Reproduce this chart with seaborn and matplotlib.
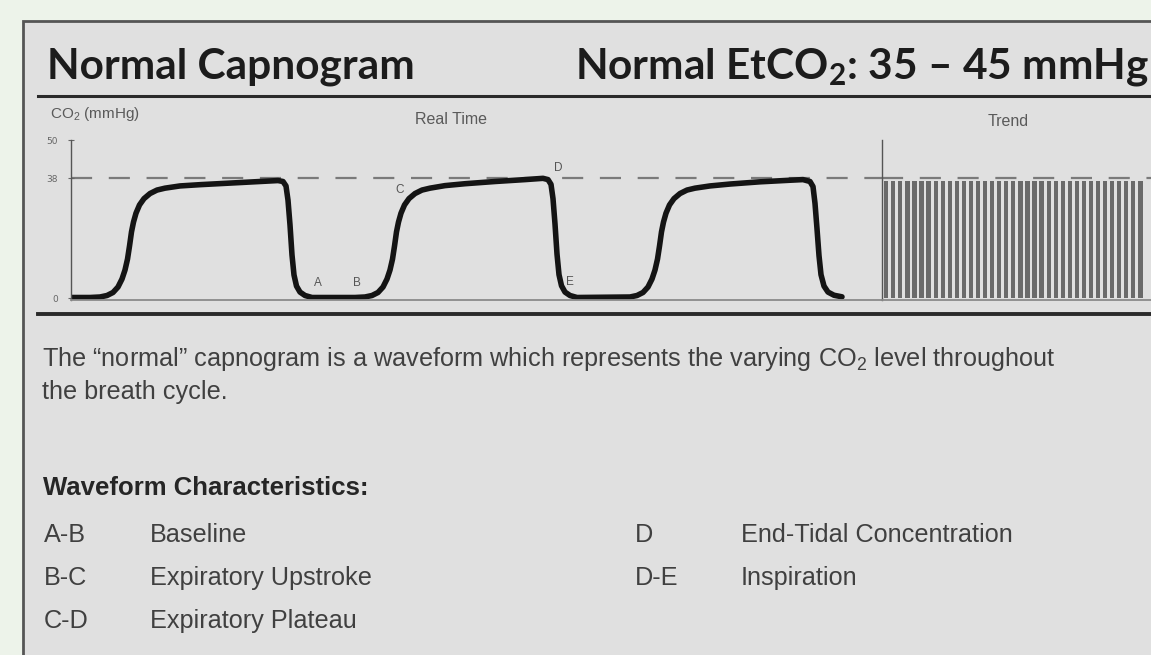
import matplotlib
matplotlib.use("Agg")
import matplotlib.pyplot as plt
from matplotlib.patches import Rectangle
from matplotlib.lines import Line2D
import seaborn as sns

# real-time capnogram (time in s, CO2 in mmHg)
time_s = [
    # breath 1
    0.00, 0.38, 0.58, 0.72, 0.84, 0.94, 1.02, 1.08, 1.13, 1.17, 1.21, 1.25, 1.30, 1.37,
    1.46, 1.58, 1.72, 1.88, 2.18, 2.58, 3.18, 3.78, 4.14, 4.24, 4.30, 4.34, 4.38, 4.42,
    4.46, 4.51, 4.58, 4.68, 4.82,
    # breath 2
    5.68, 5.88, 6.02, 6.14, 6.24, 6.32, 6.38, 6.43, 6.47, 6.51, 6.55, 6.60, 6.67, 6.76,
    6.88, 7.02, 7.18, 7.48, 7.88, 8.48, 9.08, 9.44, 9.54, 9.60, 9.64, 9.68, 9.72, 9.76,
    9.81, 9.88, 9.98, 10.12,
    # breath 3
    11.18, 11.32, 11.44, 11.54, 11.62, 11.68, 11.73, 11.77, 11.81, 11.85, 11.90, 11.97,
    12.06, 12.18, 12.32, 12.48, 12.78, 13.18, 13.78, 14.38, 14.64, 14.78, 14.84, 14.88,
    14.92, 14.96, 15.00, 15.06, 15.14, 15.26, 15.42,
]
co2_mmhg = [
    0.29, 0.29, 0.45, 0.92, 1.87, 3.60, 6.12, 8.96, 12.4, 16.5, 21.0, 24.1, 26.9, 29.5,
    31.5, 33.1, 34.2, 34.8, 35.5, 35.9, 36.4, 36.9, 37.2, 36.9, 35.5, 31.0, 23.2, 13.7,
    7.4, 3.9, 2.0, 0.92, 0.29,
    0.29, 0.45, 0.92, 1.87, 3.60, 6.12, 8.96, 12.4, 16.5, 21.0, 24.1, 26.9, 29.5, 31.5,
    33.1, 34.2, 34.8, 35.6, 36.2, 36.9, 37.5, 37.9, 37.5, 36.0, 31.5, 23.5, 14.0, 7.5,
    4.0, 2.0, 0.92, 0.29,
    0.45, 0.92, 1.87, 3.60, 6.12, 8.96, 12.4, 16.5, 21.0, 24.1, 26.9, 29.5,
    31.5, 33.1, 34.2, 34.8, 35.5, 36.1, 36.8, 37.3, 37.5, 36.9, 35.3, 30.0,
    22.0, 13.5, 7.5, 3.9, 2.0, 1.0, 0.5,
]

# trend: one bar per breath
trend_breath = list(range(1, 38))
trend_etco2 = [37, 37, 37, 37, 37, 37, 37, 37, 37, 37, 37, 37, 37, 37, 37, 37, 37, 37, 37,
               37, 37, 37, 37, 37, 37, 37, 37, 37, 37, 37, 37, 37, 37, 37, 37, 37, 37]

etco2_line = 38
y_ticks = [0, 38, 50]

point_labels = ["A", "B", "C", "D", "E"]
point_time = [4.94, 5.72, 6.58, 9.74, 9.98]
point_co2 = [4.8, 4.8, 34.2, 41.1, 5.1]

codes_left = ["A-B", "B-C", "C-D"]
desc_left = ["Baseline", "Expiratory Upstroke", "Expiratory Plateau"]
codes_right = ["D", "D-E"]
desc_right = ["End-Tidal Concentration", "Inspiration"]

W, H = 1151, 655
plt.rcParams["mathtext.fontset"] = "custom"
plt.rcParams["mathtext.rm"] = "Liberation Sans"
plt.rcParams["mathtext.bf"] = "Lato:bold"

fig = plt.figure(figsize=(W / 100, H / 100), dpi=100, facecolor="#edf3ea")


def fx(px):
    return px / W


def fy(py):
    return 1 - py / H


# grey card with dark border
fig.patches.append(Rectangle((fx(23), -0.1), 1.2, fy(21) + 0.1, transform=fig.transFigure,
                             facecolor="#e0e0e0", edgecolor="#555555", lw=2, zorder=-5))
# rules under the title and under the chart
fig.lines.append(Line2D([fx(38), 1], [fy(96), fy(96)], transform=fig.transFigure,
                        color="#2a2a2a", lw=2.2))
fig.lines.append(Line2D([fx(38), 1], [fy(314), fy(314)], transform=fig.transFigure,
                        color="#2a2a2a", lw=2.8))

ax_rt = fig.add_axes([fx(71), fy(300), fx(882) - fx(71), fy(140) - fy(300)])
ax_tr = fig.add_axes([fx(882), fy(300), 1 - fx(882), fy(140) - fy(300)])

dash = (0, (9.5, 7.5))
sns.lineplot(x=time_s, y=co2_mmhg, ax=ax_rt, color="#141414", linewidth=4.0,
             sort=False, estimator=None)
for ln in ax_rt.lines:
    ln.set_solid_joinstyle("round")
    ln.set_solid_capstyle("round")
ax_rt.axhline(etco2_line, color="#7a7a7a", lw=1.6, ls=dash, zorder=1)
ax_rt.set_xlim(0, (882 - 71) / 50)
ax_rt.set_ylim(-0.5, 50)
ax_rt.set_yticks(y_ticks)
ax_rt.set_xticks([])
ax_rt.tick_params(axis="y", labelsize=6.5, labelcolor="#666666", color="#666666",
                  direction="inout", length=5, pad=7)
for lab, t, v in zip(point_labels, point_time, point_co2):
    ax_rt.text(t, v, lab, fontsize=8.5, color="#555555", ha="center", va="center",
               fontfamily="Liberation Sans")

sns.barplot(x=trend_breath, y=trend_etco2, ax=ax_tr, color="#6a6a6a", width=0.6,
            saturation=1, linewidth=0, errorbar=None)
ax_tr.axhline(etco2_line, color="#7a7a7a", lw=1.6, ls=dash, zorder=0)
ax_tr.set_xlim(-0.6, 37.5)
ax_tr.set_ylim(-0.5, 50)
ax_tr.set_xticks([])
ax_tr.set_yticks([])

for ax in (ax_rt, ax_tr):
    ax.set_facecolor("none")
    ax.set_xlabel("")
    ax.set_ylabel("")
    ax.spines["top"].set_visible(False)
    ax.spines["right"].set_visible(False)
    ax.spines["left"].set_color("#555555")
    ax.spines["left"].set_linewidth(1.0)
    ax.spines["bottom"].set_color("#8a8a8a")
    ax.spines["bottom"].set_linewidth(1.3)

# titles
title = dict(fontfamily="Lato", fontweight="bold", fontsize=30.5, color="#1c1c1c",
             va="baseline")
fig.text(fx(47), fy(78), "Normal Capnogram", **title)
fig.text(fx(1149), fy(78), r"Normal EtCO$_\mathbf{2}$: 35 – 45 mmHg", ha="right", **title)

small = dict(fontfamily="Liberation Sans", color="#5a5a5a", va="center")
fig.text(fx(50), fy(114), r"CO$_2$ (mmHg)", fontsize=11, **small)
fig.text(fx(415), fy(120), "Real Time", fontsize=11.5, **small)
fig.text(fx(988), fy(122), "Trend", fontsize=11.5, **small)

body = dict(fontfamily="Liberation Sans", color="#404040", va="baseline", fontsize=18.2)
fig.text(fx(42), fy(366), "The “normal” capnogram is a waveform which represents "
         r"the varying CO$_2$ level throughout", **body)
fig.text(fx(42), fy(399), "the breath cycle.", **body)
fig.text(fx(43), fy(495), "Waveform Characteristics:", fontfamily="Liberation Sans",
         fontweight="bold", color="#262626", va="baseline", fontsize=18.5)

row_y = [542, 585, 628]
for i in range(len(codes_left)):
    fig.text(fx(44), fy(row_y[i]), codes_left[i], **body)
    fig.text(fx(150), fy(row_y[i]), desc_left[i], **body)
for i in range(len(codes_right)):
    fig.text(fx(635), fy(row_y[i]), codes_right[i], **body)
    fig.text(fx(741), fy(row_y[i]), desc_right[i], **body)

fig.savefig("out.png", dpi=100, facecolor=fig.get_facecolor())
